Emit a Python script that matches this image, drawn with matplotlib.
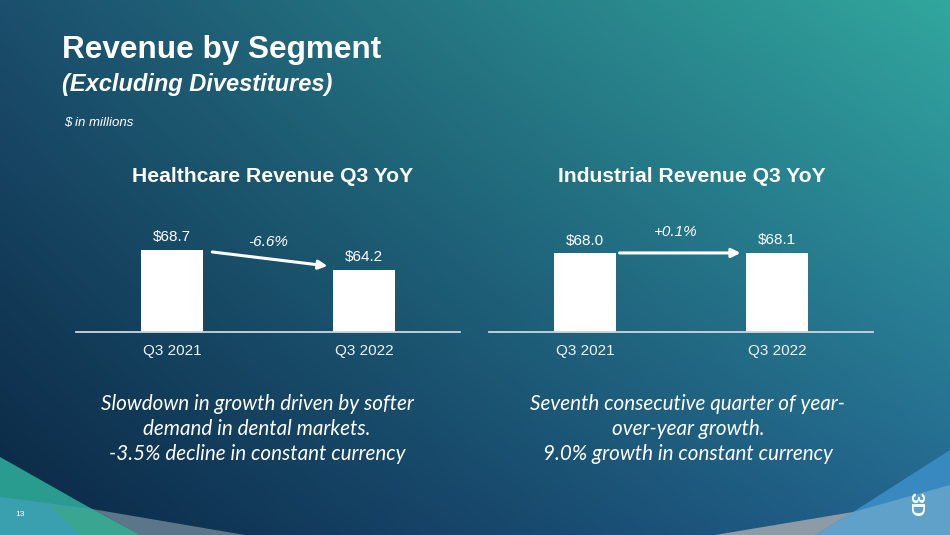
import numpy as np
import matplotlib.pyplot as plt
from matplotlib.patches import Polygon

plt.rcParams['font.family'] = ['Liberation Sans', 'DejaVu Sans']

categories = ["Q3 2021", "Q3 2022"]
healthcare = [68.7, 64.2]
industrial = [68.0, 68.1]
changes = ["-6.6%", "+0.1%"]
panel_titles = ["Healthcare Revenue Q3 YoY", "Industrial Revenue Q3 YoY"]
notes = [
    "Slowdown in growth driven by softer\ndemand in dental markets.\n-3.5% decline in constant currency",
    "Seventh consecutive quarter of year-\nover-year growth.\n9.0% growth in constant currency",
]

W, H = 950, 535
fig = plt.figure(figsize=(9.5, 5.35), dpi=100)


def rgb(h):
    return np.array([int(h[i:i + 2], 16) for i in (1, 3, 5)]) / 255


# background gradient (pixel coords, y down)
bg = fig.add_axes([0, 0, 1, 1])
xx, yy = np.meshgrid(np.linspace(0, 1, 240), np.linspace(0, 1, 140))
tl, tr, bl, br = rgb("#1b4f6d"), rgb("#31a79d"), rgb("#0a2744"), rgb("#236490")
img = (((1 - xx) * (1 - yy))[..., None] * tl + (xx * (1 - yy))[..., None] * tr
       + ((1 - xx) * yy)[..., None] * bl + (xx * yy)[..., None] * br)
bg.imshow(img, extent=[0, W, H, 0], aspect='auto', interpolation='bilinear')
bg.set_xlim(0, W)
bg.set_ylim(H, 0)
bg.axis('off')

# corner decorations
shapes = [
    ([(0, 457), (92, 509), (140, 535), (0, 535)], "#2a9c8f"),
    ([(0, 497), (92, 509), (140, 535), (0, 535)], "#3a9fae"),
    ([(50, 506), (92, 509), (140, 535), (80, 535)], "#3aa590"),
    ([(92, 509), (245, 535), (140, 535)], "#5b7688"),
    ([(950, 450), (950, 535), (800, 535), (853, 512)], "#3789c0"),
    ([(950, 485), (950, 535), (815, 535), (853, 512)], "#5fa1c8"),
    ([(853, 512), (715, 535), (815, 535)], "#8c9ba6"),
]
for pts, col in shapes:
    bg.add_patch(Polygon(pts, closed=True, color=col, lw=0))
bg.text(915, 504, "3D", rotation=-90, color="white", fontsize=14,
        fontweight="bold", ha="center", va="center")
bg.text(20, 515, "13", color="white", fontsize=6, ha="center", va="center")

# titles
fig.text(62 / W, 1 - 50 / H, "Revenue by Segment", color="white",
         fontsize=22.7, fontweight="bold", va="center")
fig.text(62 / W, 1 - 84 / H, "(Excluding Divestitures)", color="white",
         fontsize=17, fontweight="bold", style="italic", va="center")
fig.text(64 / W, 1 - 123 / H, "$ in millions", color="white",
         fontsize=9.5, style="italic", va="center")

# bar panels
ymin, ymax = 50.3, 77.7
panels = [healthcare, industrial]
lefts = [76, 489]
title_x = [273, 692]
arrow_start = [(0.21, 68.25), (0.18, 68.03)]
arrow_end = [(0.81, 65.1), (0.81, 68.03)]
change_pos = [(0.50, 70.5), (0.47, 72.8)]
note_x = [257, 688]

for i, vals in enumerate(panels):
    ax = fig.add_axes([lefts[i] / W, 1 - 331.7 / H, 384 / W, 121.7 / H])
    ax.patch.set_alpha(0)
    x = np.arange(len(categories))
    ax.bar(x, vals, width=0.32, color="white", zorder=2)
    ax.set_xlim(-0.5, 1.5)
    ax.set_ylim(ymin, ymax)
    ax.set_xticks(x)
    ax.set_xticklabels(categories)
    ax.set_yticks([])
    ax.tick_params(axis="x", length=0, pad=9, labelsize=11, labelcolor="#eef2f5")
    for s in ("top", "left", "right"):
        ax.spines[s].set_visible(False)
    ax.spines["bottom"].set_color("#cdd7de")
    ax.spines["bottom"].set_linewidth(1.3)
    for xi, v in zip(x, vals):
        ax.annotate(f"${v:.1f}", (xi, v), xytext=(0, 9), textcoords="offset points",
                    ha="center", va="center", color="white", fontsize=11)
    ax.annotate("", xy=arrow_end[i], xytext=arrow_start[i],
                arrowprops=dict(arrowstyle="-|>", color="white", lw=2.2,
                                mutation_scale=13, shrinkA=0, shrinkB=0))
    ax.text(*change_pos[i], changes[i], color="white", fontsize=11,
            style="italic", ha="center", va="center")

    fig.text(title_x[i] / W, 1 - 177 / H, panel_titles[i], color="white",
             fontsize=15.2, fontweight="bold", ha="center", va="center")
    fig.text(note_x[i] / W, 1 - 429 / H, notes[i], color="white", fontsize=14.9,
             family=["Lato", "DejaVu Sans"], style="italic", ha="center",
             va="center", linespacing=1.32)

fig.savefig("out.png", dpi=100)
